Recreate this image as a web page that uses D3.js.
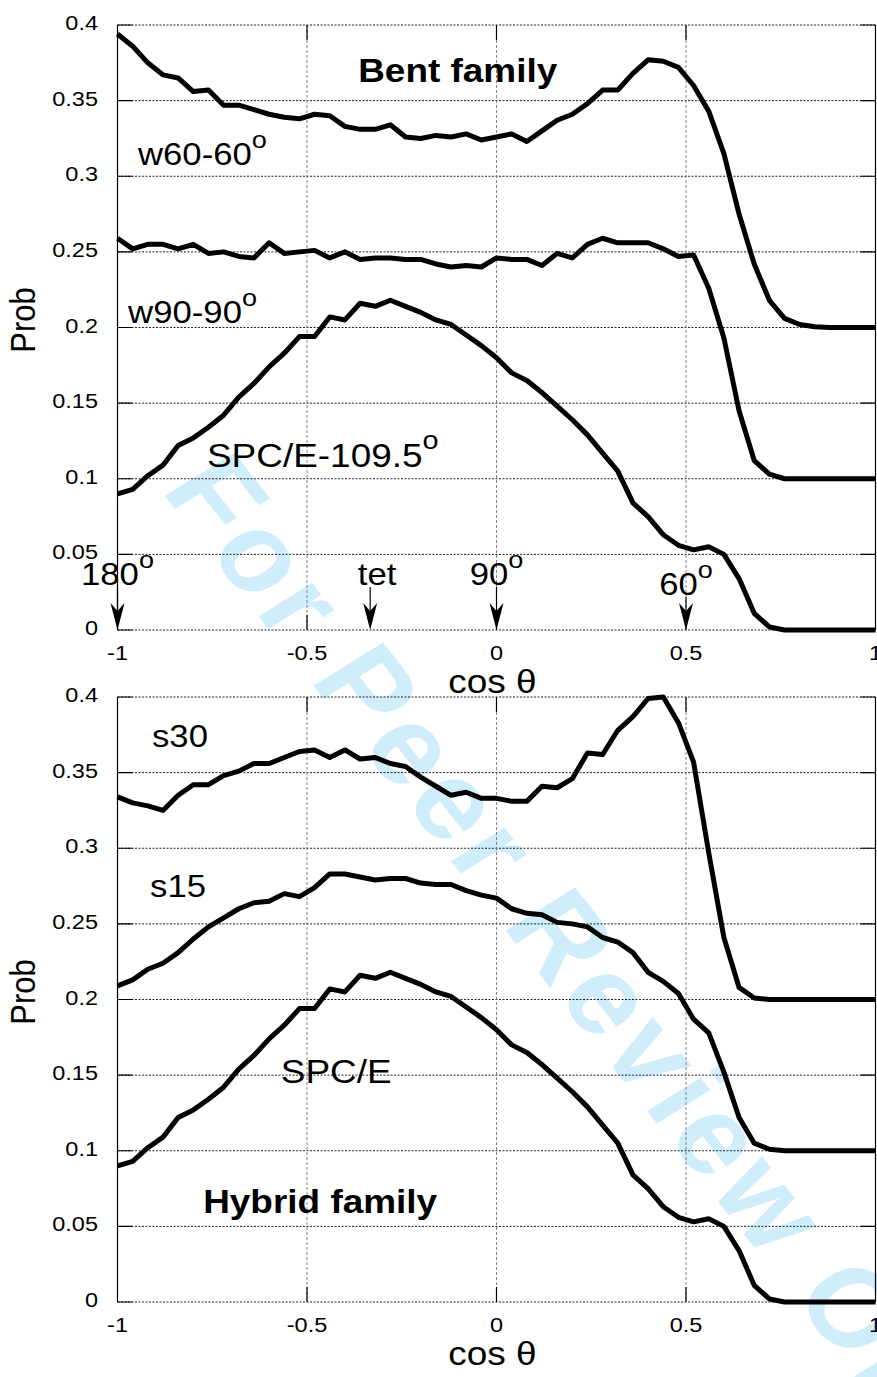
<!DOCTYPE html>
<html>
<head>
<meta charset="utf-8">
<script src="https://cdn.jsdelivr.net/npm/d3@7"></script>
<style>
  body { margin: 0; background: #fff; }
  svg { display: block; }
  text { font-family: "Liberation Sans", Arial, Helvetica, sans-serif; }
</style>
</head>
<body>
<svg id="chart" width="877" height="1377"></svg>
<script>
// cos(theta) sample points, step 0.04
const cosTheta = [-1.00,-0.96,-0.92,-0.88,-0.84,-0.80,-0.76,-0.72,-0.68,-0.64,
  -0.60,-0.56,-0.52,-0.48,-0.44,-0.40,-0.36,-0.32,-0.28,-0.24,
  -0.20,-0.16,-0.12,-0.08,-0.04,0.00,0.04,0.08,0.12,0.16,
  0.20,0.24,0.28,0.32,0.36,0.40,0.44,0.48,0.52,0.56,
  0.60,0.64,0.68,0.72,0.76,0.80,0.84,0.88,0.92,0.96,1.00];

// SPC/E (tetrahedral, 109.5 deg) – shown in both panels
const spce = [.090,.093,.102,.109,.122,.127,.134,.142,.154,.163,
  .174,.183,.194,.194,.207,.205,.216,.214,.218,.214,
  .210,.205,.202,.195,.188,.180,.170,.165,.157,.148,
  .139,.129,.117,.105,.084,.075,.063,.056,.053,.055,
  .050,.034,.011,.002,0,0,0,0,0,0,0];

// Bent family (offset curves)
const w60 = [.394,.386,.375,.367,.365,.356,.357,.347,.347,.344,
  .341,.339,.338,.341,.340,.333,.331,.331,.334,.326,
  .325,.327,.326,.328,.324,.326,.328,.323,.330,.337,
  .341,.348,.357,.357,.368,.377,.376,.372,.360,.343,
  .315,.275,.242,.218,.206,.202,.2005,.200,.200,.200,.200];
const w90 = [.259,.252,.255,.255,.252,.255,.249,.250,.247,.246,
  .256,.249,.250,.251,.246,.250,.245,.246,.246,.245,
  .245,.242,.240,.241,.240,.246,.245,.245,.241,.249,
  .246,.255,.259,.256,.256,.256,.252,.247,.248,.226,
  .193,.145,.112,.103,.100,.100,.100,.100,.100,.100,.100];

// Hybrid family (offset curves)
const s30 = [.334,.330,.328,.325,.335,.342,.342,.348,.351,.356,
  .356,.360,.364,.365,.360,.365,.359,.360,.356,.354,
  .347,.341,.335,.337,.333,.333,.331,.331,.341,.340,
  .346,.363,.362,.378,.387,.399,.400,.383,.357,.297,
  .241,.208,.201,.200,.200,.200,.200,.200,.200,.200,.200];
const s15 = [.209,.213,.220,.224,.231,.240,.248,.254,.260,.264,
  .265,.270,.268,.274,.283,.283,.281,.279,.280,.280,
  .277,.276,.276,.272,.269,.267,.260,.257,.256,.251,
  .250,.248,.241,.238,.231,.218,.212,.204,.187,.178,
  .152,.122,.105,.101,.100,.100,.100,.100,.100,.100,.100];

const yTicks = [0,0.05,0.1,0.15,0.2,0.25,0.3,0.35,0.4];
const yTickLabels = ["0","0.05","0.1","0.15","0.2","0.25","0.3","0.35","0.4"];
const xTicks = [-1,-0.5,0,0.5,1];
const xTickLabels = ["-1","-0.5","0","0.5","1"];
const xGrid = [-0.5,0,0.5];

// angle markers on the top panel
const markerNames = ["180", "tet", "90", "60"];
const markerCos = [-1, -1/3, 0, 0.5];
const markerDeg = [true, false, true, true];

// curve labels: [text, superscript, cos, prob]
const topLabels = [
  ["w60-60", "o", -0.946, 0.3074],
  ["w90-90", "o", -0.972, 0.2030],
  ["SPC/E-109.5", "o", -0.764, 0.1078]
];
const bottomLabels = [
  ["s30", "", -0.909, 0.367],
  ["s15", "", -0.914, 0.2678],
  ["SPC/E", "", -0.569, 0.1448]
];

const SX = 1.12;   // horizontal glyph stretch used for all text
const svg = d3.select("#chart");

const x = d3.scaleLinear().domain([-1, 1]).range([117.5, 875.5]);

// watermark
svg.append("text")
  .attr("transform", `translate(160,490) scale(${SX},1) rotate(55)`)
  .attr("font-size", 110)
  .attr("font-weight", "bold")
  .attr("letter-spacing", 6)
  .attr("fill", "#d0edfb")
  .text("For Peer Review Only");

function stretchedText(g, px, py, str, opts) {
  const t = g.append("text")
    .attr("transform", `translate(${px},${py}) scale(${SX},1)`)
    .attr("font-size", opts.size)
    .attr("text-anchor", opts.anchor || "start")
    .attr("font-weight", opts.bold ? "bold" : "normal")
    .attr("fill", "#000");
  t.append("tspan").text(str);
  if (opts.sup) {
    t.append("tspan").attr("font-size", opts.size * 0.78).attr("dy", -opts.size * 0.55).text(opts.sup);
  }
  return t;
}

function drawPanel(top, bottom, series, labels, familyLabel) {
  const y = d3.scaleLinear().domain([0, 0.4]).range([bottom, top]);
  const g = svg.append("g");
  const x0 = x.range()[0], x1 = x.range()[1];

  // horizontal grid
  g.selectAll(null).data(yTicks).enter().append("line")
    .attr("x1", x0).attr("x2", x1)
    .attr("y1", d => y(d)).attr("y2", d => y(d))
    .attr("stroke", "#222").attr("stroke-width", 1)
    .attr("stroke-dasharray", "2,1.5");
  // vertical grid
  g.selectAll(null).data(xGrid).enter().append("line")
    .attr("x1", d => x(d)).attr("x2", d => x(d))
    .attr("y1", top).attr("y2", bottom)
    .attr("stroke", "#666").attr("stroke-width", 0.8)
    .attr("stroke-dasharray", "3,2");
  // frame sides
  g.append("line").attr("x1", x0).attr("x2", x0).attr("y1", top).attr("y2", bottom)
    .attr("stroke", "#000").attr("stroke-width", 1.2);
  g.append("line").attr("x1", x1).attr("x2", x1).attr("y1", top).attr("y2", bottom)
    .attr("stroke", "#000").attr("stroke-width", 1.2);
  // ticks
  g.selectAll(null).data(yTicks).enter().append("path")
    .attr("d", d => `M${x0},${y(d)}h15M${x1},${y(d)}h-15`)
    .attr("stroke", "#000").attr("stroke-width", 1.2);
  g.selectAll(null).data(xGrid).enter().append("path")
    .attr("d", d => `M${x(d)},${top}v15M${x(d)},${bottom}v-15`)
    .attr("stroke", "#000").attr("stroke-width", 1.2);

  // tick labels
  yTicks.forEach((d, i) => stretchedText(g, 98, y(d) + 5, yTickLabels[i], {size: 21, anchor: "end"}));
  xTicks.forEach((d, i) => stretchedText(g, x(d), bottom + 30, xTickLabels[i], {size: 21, anchor: "middle"}));

  // axis titles
  stretchedText(g, x(0) - 4, bottom + 63, "cos θ", {size: 33, anchor: "middle"});
  g.append("text")
    .attr("transform", `translate(35,${y(0.205)}) scale(${SX},1) rotate(-90)`)
    .attr("font-size", 31).attr("text-anchor", "middle")
    .text("Prob");

  // curves
  const line = d3.line().x((d, i) => x(cosTheta[i])).y(d => y(d));
  series.forEach(s => {
    g.append("path").datum(s)
      .attr("d", line)
      .attr("fill", "none").attr("stroke", "#000")
      .attr("stroke-width", 5).attr("stroke-linejoin", "round").attr("stroke-linecap", "butt");
  });

  // curve labels
  labels.forEach(l => {
    const sz = l[0].startsWith("SPC") ? 33 : 31;
    stretchedText(g, x(l[2]), y(l[3]), l[0], {size: sz, sup: l[1]});
  });
  stretchedText(g, x(familyLabel[1]), y(familyLabel[2]), familyLabel[0], {size: 33, bold: true});
  return {g, y};
}

const topPanel = drawPanel(25, 630, [w60, w90, spce], topLabels, ["Bent family", -0.365, 0.3623]);
drawPanel(697, 1302, [s30, s15, spce], bottomLabels, ["Hybrid family", -0.774, 0.0588]);

// angle markers with arrows
const ty = topPanel.y;
markerNames.forEach((name, i) => {
  const cx = x(markerCos[i]);
  const base = name === "60" ? 595 : 585;
  const shift = name === "tet" ? 7 : 0;
  stretchedText(topPanel.g, cx + shift, base, name, {size: 31, anchor: "middle", sup: markerDeg[i] ? "o" : ""});
  const tip = ty(0);
  topPanel.g.append("line").attr("x1", cx).attr("x2", cx).attr("y1", base + 2).attr("y2", tip - 12)
    .attr("stroke", "#000").attr("stroke-width", 1.2);
  topPanel.g.append("path")
    .attr("d", `M${cx},${tip}L${cx - 7},${tip - 27}L${cx},${tip - 19}L${cx + 7},${tip - 27}Z`)
    .attr("fill", "#000");
});
</script>
</body>
</html>
